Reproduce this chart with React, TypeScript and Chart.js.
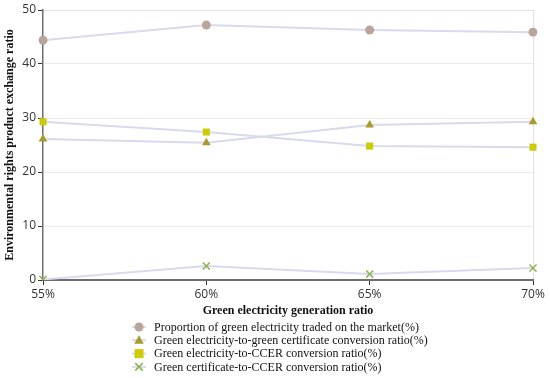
import React, { useEffect, useRef } from "react";
import { Chart, registerables } from "chart.js";

Chart.register(...registerables);

const categories = ["55%", "60%", "65%", "70%"];
const marketTraded = [44.4, 47.2, 46.3, 45.9];
const greenCertRatio = [26.1, 25.4, 28.7, 29.3];
const ccerRatio = [29.3, 27.4, 24.8, 24.6];
const certToCcer = [0.1, 2.6, 1.1, 2.2];
const yTicks = [0, 10, 20, 30, 40, 50];

const seriesNames = [
  "Proportion of green electricity traded on the market(%)",
  "Green electricity-to-green certificate conversion ratio(%)",
  "Green electricity-to-CCER conversion ratio(%)",
  "Green certificate-to-CCER conversion ratio(%)",
];

const LINE = "#d9d9ef";
const SERIF = "'Liberation Serif', 'Times New Roman', serif";
const SANS = "'Open Sans', 'Liberation Sans', sans-serif";

const legendPlugin = {
  id: "customLegend",
  afterDraw(chart: any) {
    const ctx = chart.ctx;
    const x0 = 132;
    const y0 = 327;
    const step = 13.3;
    ctx.save();
    chart.data.datasets.forEach((ds: any, i: number) => {
      const meta = chart.getDatasetMeta(i);
      const y = y0 + i * step;
      ctx.strokeStyle = LINE;
      ctx.lineWidth = 2;
      ctx.beginPath();
      ctx.moveTo(x0, y);
      ctx.lineTo(x0 + 14, y);
      ctx.stroke();
      const el = meta.data[0];
      if (el) {
        const opts = el.options;
        ctx.fillStyle = opts.backgroundColor;
        ctx.strokeStyle = opts.borderColor;
        ctx.lineWidth = opts.borderWidth;
        (Chart as any).helpers
          ? null
          : null;
      }
      drawPoint(ctx, ds.pointStyle, ds.pointBackgroundColor, ds.pointBorderColor, x0 + 7, y, ds.pointRadius);
      ctx.fillStyle = "#111";
      ctx.font = `12px ${SERIF}`;
      ctx.textBaseline = "middle";
      ctx.textAlign = "left";
      ctx.fillText(ds.label, x0 + 22, y + 0.5);
    });
    ctx.restore();
  },
};

function drawPoint(ctx: CanvasRenderingContext2D, style: string, fill: string, stroke: string, x: number, y: number, r: number) {
  ctx.save();
  ctx.fillStyle = fill;
  ctx.strokeStyle = stroke;
  ctx.lineWidth = 1.5;
  ctx.beginPath();
  if (style === "circle") {
    ctx.arc(x, y, r, 0, Math.PI * 2);
    ctx.fill();
  } else if (style === "triangle") {
    ctx.moveTo(x, y - r);
    ctx.lineTo(x + r * 0.95, y + r * 0.7);
    ctx.lineTo(x - r * 0.95, y + r * 0.7);
    ctx.closePath();
    ctx.fill();
  } else if (style === "rect") {
    ctx.fillRect(x - r * 0.9, y - r * 0.9, r * 1.8, r * 1.8);
  } else {
    const d = r * 0.75;
    ctx.moveTo(x - d, y - d);
    ctx.lineTo(x + d, y + d);
    ctx.moveTo(x + d, y - d);
    ctx.lineTo(x - d, y + d);
    ctx.stroke();
  }
  ctx.restore();
}

export default function App() {
  const ref = useRef<HTMLCanvasElement | null>(null);

  useEffect(() => {
    document.body.style.margin = "0";
    const canvas = ref.current!;
    const mk = (label: string, data: number[], style: string, color: string, radius: number) => ({
      label,
      data,
      borderColor: LINE,
      borderWidth: 2,
      pointStyle: style,
      pointRadius: radius,
      pointBackgroundColor: color,
      pointBorderColor: color,
      pointBorderWidth: style === "crossRot" ? 1.5 : 0,
      tension: 0,
      fill: false,
    });
    const chart = new Chart(canvas, {
      type: "line",
      data: {
        labels: categories,
        datasets: [
          mk(seriesNames[0], marketTraded, "circle", "#b9a59c", 4.5),
          mk(seriesNames[1], greenCertRatio, "triangle", "#a99a2c", 5),
          mk(seriesNames[2], ccerRatio, "rect", "#cccc05", 5),
          mk(seriesNames[3], certToCcer, "crossRot", "#8db34e", 5),
        ] as any,
      },
      options: {
        animation: false,
        responsive: false,
        layout: { padding: { top: 10, right: 17, left: 0, bottom: 60 } },
        plugins: { legend: { display: false }, tooltip: { enabled: false } },
        scales: {
          x: {
            type: "category",
            offset: false,
            grid: {
              color: (c: any) => (c.index === categories.length - 1 ? "#ecdde6" : "rgba(0,0,0,0)"),
              tickColor: "#333",
              tickLength: 5,
              drawOnChartArea: true,
            },
            border: { color: "#6f6f6f", width: 2 },
            ticks: { color: "#333", font: { family: SANS, size: 12 }, padding: 2, maxRotation: 0 },
            title: {
              display: true,
              text: "Green electricity generation ratio",
              color: "#111",
              font: { family: SERIF, size: 12, weight: "bold" },
              padding: { top: 3, bottom: 0 },
            },
            afterFit: (s: any) => {
              s.height = 38;
            },
          },
          y: {
            min: 0,
            max: 50,
            afterBuildTicks: (s: any) => {
              s.ticks = yTicks.map((v) => ({ value: v }));
            },
            grid: {
              color: (c: any) => (c.tick && c.tick.value === 50 ? "#ecdde6" : "#ebebeb"),
              tickColor: "#333",
              tickLength: 5,
            },
            border: { color: "#6f6f6f", width: 1.5 },
            ticks: { color: "#333", font: { family: SANS, size: 12 }, padding: 2 },
            title: {
              display: true,
              text: "Environmental rights product exchange ratio",
              color: "#111",
              font: { family: SERIF, size: 12, weight: "bold" },
              padding: { top: 3, bottom: 0 },
            },
            afterFit: (s: any) => {
              s.width = 43;
            },
          },
        },
      },
      plugins: [legendPlugin],
    });
    return () => chart.destroy();
  }, []);

  return (
    <div style={{ position: "absolute", left: 0, top: 0, width: 550, height: 378, background: "#fff" }}>
      <canvas ref={ref} width={550} height={378} />
    </div>
  );
}
